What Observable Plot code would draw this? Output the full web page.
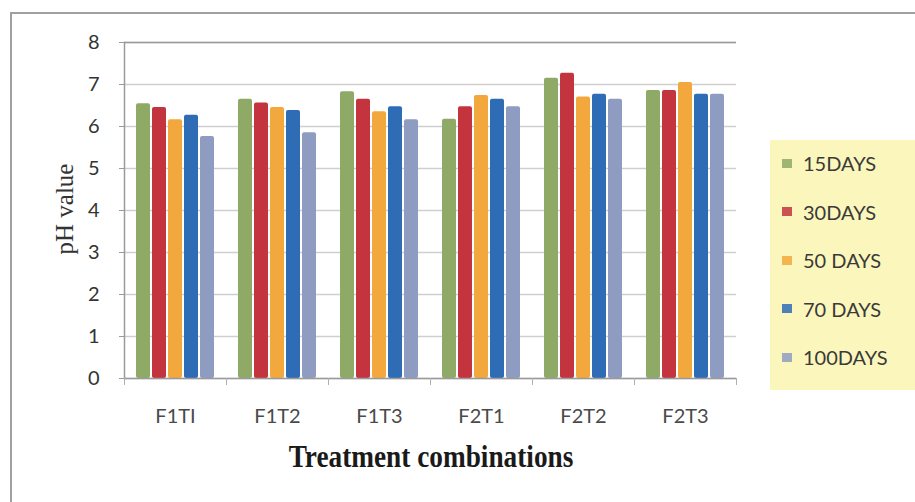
<!DOCTYPE html>
<html>
<head>
<meta charset="utf-8">
<script src="https://cdn.jsdelivr.net/npm/d3@7"></script>
<script src="https://cdn.jsdelivr.net/npm/@observablehq/plot@0.6"></script>
<style>
  html, body { margin: 0; padding: 0; background: #ffffff; }
  #wrap { position: relative; width: 915px; height: 502px; overflow: hidden; }
  #frame { position: absolute; left: 10px; top: 12px; right: -5px; bottom: -5px;
           border-left: 2px solid #a0a0a4; border-top: 2px solid #a0a0a4; }
  #chart { position: absolute; left: 0; top: 0; }
  #ylabel { position: absolute; left: 65px; top: 209px; transform: translate(-50%, -50%) rotate(-90deg);
            font-family: "Liberation Serif", serif; font-size: 25px; color: #333; white-space: nowrap; }
  #xlabel { position: absolute; left: 431px; top: 457px; transform: translate(-50%, -50%) scaleX(0.88);
            font-family: "Liberation Serif", serif; font-weight: bold; font-size: 31px; color: #1a1a1a; white-space: nowrap; }
  #legend { position: absolute; left: 770px; top: 140px; width: 150px; height: 250px; background: #fbf7bc; }
  .li { position: absolute; left: 12px; height: 24px; display: flex; align-items: center;
        font-family: Lato, "Open Sans", sans-serif; font-size: 20px; color: #3a3a3a; white-space: nowrap; }
  .sw { width: 10px; height: 9px; margin-right: 11px; }
</style>
</head>
<body>
<div id="wrap">
  <div id="frame"></div>
  <div id="chart"></div>
  <div id="ylabel">pH value</div>
  <div id="xlabel">Treatment combinations</div>
  <div id="legend"></div>
</div>
<script>
const categories = ["F1TI", "F1T2", "F1T3", "F2T1", "F2T2", "F2T3"];
const series = ["15DAYS", "30DAYS", "50 DAYS", "70 DAYS", "100DAYS"];
const colors = ["#8fa966", "#c3343f", "#f2a83c", "#2f6cb6", "#8f9cc2"];
const yTicks = [0, 1, 2, 3, 4, 5, 6, 7, 8];
const days15  = [6.54, 6.65, 6.83, 6.17, 7.15, 6.86];
const days30  = [6.45, 6.56, 6.65, 6.47, 7.27, 6.86];
const days50  = [6.16, 6.45, 6.35, 6.74, 6.70, 7.05];
const days70  = [6.27, 6.38, 6.47, 6.65, 6.77, 6.77];
const days100 = [5.76, 5.85, 6.16, 6.47, 6.65, 6.77];

const valuesBySeries = [days15, days30, days50, days70, days100];
const data = [];
categories.forEach((c, i) => {
  series.forEach((s, j) => data.push({cat: c, series: s, value: valuesBySeries[j][i]}));
});

const plot = Plot.plot({
  width: 915,
  height: 502,
  marginLeft: 123,
  marginRight: 178,
  marginTop: 42,
  marginBottom: 124,
  style: {background: "transparent", fontFamily: "Lato, 'Open Sans', sans-serif", color: "#333"},
  fx: {domain: categories, padding: 0, label: null, axis: null},
  x: {domain: series, paddingInner: 0.15, paddingOuter: 0.75, axis: null},
  y: {domain: [0, 8], label: null},
  color: {domain: series, range: colors},
  marks: [
    Plot.gridY(yTicks, {stroke: "#cfcfcf", strokeOpacity: 1, strokeWidth: 1.5}),
    Plot.gridY([8], {stroke: "#9a9a9a", strokeOpacity: 1, strokeWidth: 1.5}),
    Plot.barY(data, {fx: "cat", x: "series", y: "value", fill: "series", rx: 2}),
    Plot.ruleY([0], {stroke: "#9a9a9a", strokeWidth: 1.5}),
    Plot.frame({anchor: "left", facetAnchor: "left", stroke: "#9a9a9a", strokeWidth: 1.5}),
    Plot.frame({anchor: "left", insetTop: 336, insetBottom: -6, stroke: "#b0b0b0"}),
    Plot.frame({anchor: "right", facetAnchor: "right", insetTop: 336, insetBottom: -6, stroke: "#b0b0b0"}),
    Plot.axisY(yTicks, {tickSize: 5, tickPadding: 20, fontSize: 20, stroke: "#9a9a9a", fill: "#333"}),
    Plot.axisFx({anchor: "bottom", tickSize: 0, tickPadding: 30, fontSize: 20, fill: "#4a4a4a", label: null})
  ]
});
document.getElementById("chart").appendChild(plot);

const legend = document.getElementById("legend");
series.forEach((s, i) => {
  const item = document.createElement("div");
  item.className = "li";
  item.style.top = (11 + i * 48.5) + "px";
  const sw = document.createElement("div");
  sw.className = "sw";
  sw.style.background = colors[i];
  sw.style.opacity = 0.85;
  const t = document.createElement("span");
  t.textContent = s;
  item.appendChild(sw);
  item.appendChild(t);
  legend.appendChild(item);
});
</script>
</body>
</html>
